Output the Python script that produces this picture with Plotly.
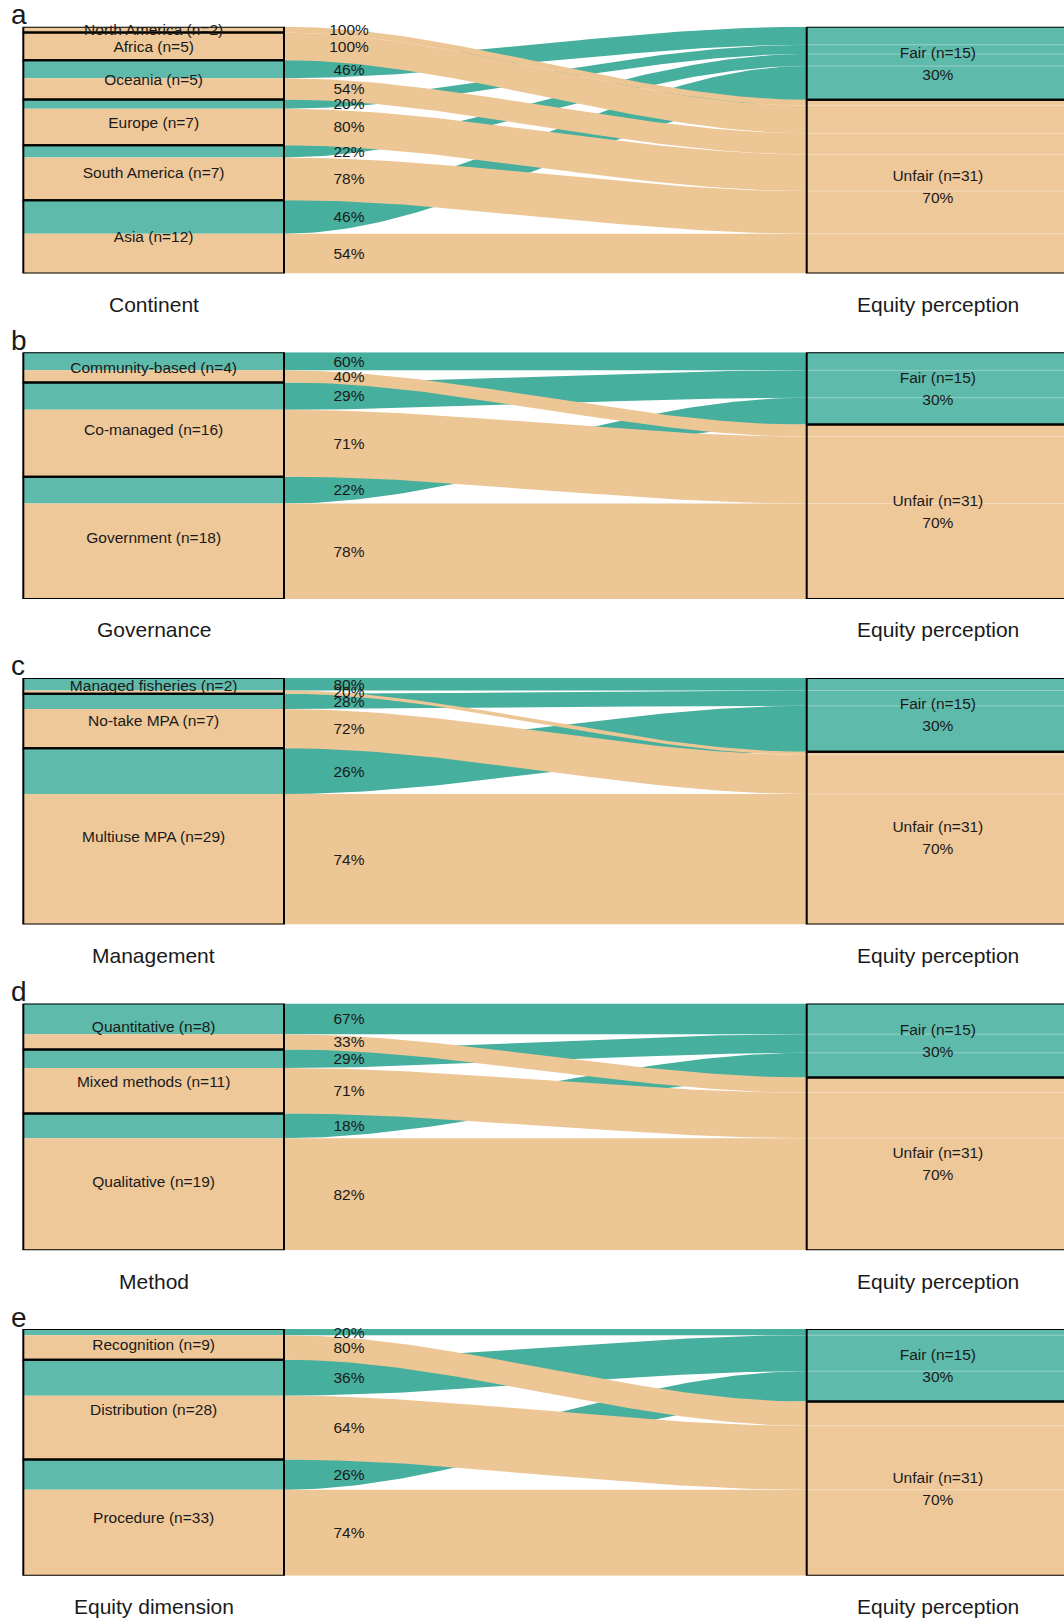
import plotly.graph_objects as go
import numpy as np

# ---------------- data ----------------
continent_names = ["North America", "Africa", "Oceania", "Europe", "South America", "Asia"]
continent_n = [2, 5, 5, 7, 7, 12]
continent_weight = [2.4, 11.2, 15.9, 18.6, 22.2, 29.7]
continent_fair_pct = [0, 0, 46, 20, 22, 46]

governance_names = ["Community-based", "Co-managed", "Government"]
governance_n = [4, 16, 18]
governance_weight = [12.2, 38.2, 49.6]
governance_fair_pct = [60, 29, 22]

management_names = ["Managed fisheries", "No-take MPA", "Multiuse MPA"]
management_n = [2, 7, 29]
management_weight = [6.4, 22.1, 71.5]
management_fair_pct = [80, 28, 26]

method_names = ["Quantitative", "Mixed methods", "Qualitative"]
method_n = [8, 11, 19]
method_weight = [18.6, 26.0, 55.4]
method_fair_pct = [67, 29, 18]

dimension_names = ["Recognition", "Distribution", "Procedure"]
dimension_n = [9, 28, 33]
dimension_weight = [12.4, 40.5, 47.1]
dimension_fair_pct = [20, 36, 26]

outcome_names = ["Fair", "Unfair"]
outcome_n = [15, 31]
outcome_pct = [30, 70]

panel_letters = ["a", "b", "c", "d", "e"]
panel_titles = ["Continent", "Governance", "Management", "Method", "Equity dimension"]
outcome_title = "Equity perception"

panels = [
    (continent_names, continent_n, continent_weight, continent_fair_pct),
    (governance_names, governance_n, governance_weight, governance_fair_pct),
    (management_names, management_n, management_weight, management_fair_pct),
    (method_names, method_n, method_weight, method_fair_pct),
    (dimension_names, dimension_n, dimension_weight, dimension_fair_pct),
]

# ---------------- style / layout constants ----------------
FIG_W, FIG_H = 1064, 1620
LEFT_X0, LEFT_X1 = 23.3, 284.0
RIGHT_X0, RIGHT_X1 = 806.7, 1069.0
PCT_X = 349.0
PANEL_TOP0, PANEL_STEP, PANEL_H = 26.7, 325.6, 246.7
TEXT_SHIFT_PX = 1.5

TEAL_NODE = "#5EBAAA"
TAN_NODE = "#EEC899"
TEAL_FLOW = "#46AF9E"
TAN_FLOW = "#EDC695"
TXT = "#1a1a1a"
FONT = "Arial, Liberation Sans, sans-serif"


def smooth(t):
    return t * t * (3 - 2 * t)


fig = go.Figure()
layout_axes = {}
annotations = []
t = np.linspace(0, 1, 80)
s = smooth(t)
xs = LEFT_X1 + (RIGHT_X0 - LEFT_X1) * t

for i, (names, ns, weights, pcts) in enumerate(panels):
    ax = "" if i == 0 else str(i + 1)
    xref, yref = "x" + ax, "y" + ax
    top_px = PANEL_TOP0 + i * PANEL_STEP
    bot_px = top_px + PANEL_H
    weights = np.array(weights, dtype=float)
    fair = weights * np.array(pcts) / 100.0
    unfair = weights - fair
    total = weights.sum()
    u_per_px = total / PANEL_H
    shift = TEXT_SHIFT_PX * u_per_px

    layout_axes["xaxis" + ax] = dict(domain=[0, 1], range=[0, FIG_W], visible=False,
                                     anchor=yref, fixedrange=True)
    layout_axes["yaxis" + ax] = dict(domain=[1 - bot_px / FIG_H, 1 - top_px / FIG_H],
                                     range=[total, 0], visible=False, anchor=xref,
                                     fixedrange=True)

    def poly(x, y, color):
        fig.add_trace(go.Scatter(
            x=x, y=y, xaxis=xref, yaxis=yref, mode="lines", fill="toself",
            fillcolor=color, line=dict(width=0, color=color),
            hoverinfo="skip", showlegend=False))

    def rect(x0, x1, y0, y1, color):
        poly([x0, x1, x1, x0, x0], [y0, y0, y1, y1, y0], color)

    def outline(x0, x1, y0, y1):
        fig.add_trace(go.Scatter(
            x=[x0, x1, x1, x0, x0], y=[y0, y0, y1, y1, y0], xaxis=xref, yaxis=yref,
            mode="lines", line=dict(color="black", width=2), hoverinfo="skip",
            showlegend=False))

    def texts(x, y, txt):
        fig.add_trace(go.Scatter(
            x=x, y=[v + shift for v in y], text=txt, mode="text",
            textposition="middle center",
            textfont=dict(family=FONT, size=15.5, color=TXT), cliponaxis=False,
            xaxis=xref, yaxis=yref, hoverinfo="skip", showlegend=False))

    # left strata segments
    cum = np.concatenate([[0], np.cumsum(weights)])
    for k in range(len(names)):
        y0 = cum[k]
        if fair[k] > 0:
            rect(LEFT_X0, LEFT_X1, y0, y0 + fair[k], TEAL_NODE)
        rect(LEFT_X0, LEFT_X1, y0 + fair[k], cum[k + 1], TAN_NODE)

    # right strata
    fair_tot = fair.sum()
    rect(RIGHT_X0, RIGHT_X1, 0, fair_tot, TEAL_NODE)
    rect(RIGHT_X0, RIGHT_X1, fair_tot, total, TAN_NODE)

    # flows: teal first, tan on top
    rpos_f = np.concatenate([[0], np.cumsum(fair)])
    rpos_u = fair_tot + np.concatenate([[0], np.cumsum(unfair)])
    for k in range(len(names)):
        if fair[k] <= 0:
            continue
        l0, l1 = cum[k], cum[k] + fair[k]
        r0, r1 = rpos_f[k], rpos_f[k + 1]
        ytop = l0 + (r0 - l0) * s
        ybot = l1 + (r1 - l1) * s
        poly(np.concatenate([xs, xs[::-1]]), np.concatenate([ytop, ybot[::-1]]), TEAL_FLOW)
    for k in range(len(names)):
        if unfair[k] <= 0:
            continue
        l0, l1 = cum[k] + fair[k], cum[k + 1]
        r0, r1 = rpos_u[k], rpos_u[k + 1]
        ytop = l0 + (r0 - l0) * s
        ybot = l1 + (r1 - l1) * s
        poly(np.concatenate([xs, xs[::-1]]), np.concatenate([ytop, ybot[::-1]]), TAN_FLOW)

    # faint seams inside the right box where lodes meet
    seam_y = list(rpos_f[1:-1]) + list(rpos_u[1:-1])
    for yv in seam_y:
        fig.add_trace(go.Scatter(x=[RIGHT_X0, RIGHT_X1], y=[yv, yv], xaxis=xref, yaxis=yref,
                                 mode="lines", line=dict(color="rgba(255,255,255,0.35)", width=1),
                                 hoverinfo="skip", showlegend=False))

    # outlines
    for k in range(len(names)):
        outline(LEFT_X0, LEFT_X1, cum[k], cum[k + 1])
    outline(RIGHT_X0, RIGHT_X1, 0, fair_tot)
    outline(RIGHT_X0, RIGHT_X1, fair_tot, total)

    # category labels
    texts([(LEFT_X0 + LEFT_X1) / 2] * len(names), list((cum[:-1] + cum[1:]) / 2),
          [f"{nm} (n={n})" for nm, n in zip(names, ns)])

    # percentage labels
    py, pt = [], []
    for k in range(len(names)):
        if fair[k] > 0:
            py.append(cum[k] + fair[k] / 2)
            pt.append(f"{pcts[k]}%")
        if unfair[k] > 0:
            py.append(cum[k] + fair[k] + unfair[k] / 2)
            pt.append(f"{100 - pcts[k]}%")
    texts([PCT_X] * len(py), py, pt)

    # outcome labels (two lines)
    off = 11.0 * u_per_px
    centers = [fair_tot / 2, (fair_tot + total) / 2]
    ox, oy, otext = [], [], []
    for c, nm, n, p in zip(centers, outcome_names, outcome_n, outcome_pct):
        ox += [(RIGHT_X0 + RIGHT_X1) / 2] * 2
        oy += [c - off, c + off]
        otext += [f"{nm} (n={n})", f"{p}%"]
    texts(ox, oy, otext)

    # panel letter and axis titles
    annotations.append(dict(text=panel_letters[i], xref="paper", yref="paper",
                            x=9 / FIG_W, y=1 - (top_px - 12) / FIG_H,
                            xanchor="left", yanchor="middle", showarrow=False,
                            font=dict(family=FONT, size=28, color=TXT)))
    title_y = 1 - (bot_px + 31) / FIG_H
    annotations.append(dict(text=panel_titles[i], xref="paper", yref="paper",
                            x=((LEFT_X0 + LEFT_X1) / 2) / FIG_W, y=title_y,
                            xanchor="center", yanchor="middle", showarrow=False,
                            font=dict(family=FONT, size=21, color=TXT)))
    annotations.append(dict(text=outcome_title, xref="paper", yref="paper",
                            x=((RIGHT_X0 + RIGHT_X1) / 2) / FIG_W, y=title_y,
                            xanchor="center", yanchor="middle", showarrow=False,
                            font=dict(family=FONT, size=21, color=TXT)))

fig.update_layout(
    width=FIG_W, height=FIG_H, margin=dict(l=0, r=0, t=0, b=0),
    paper_bgcolor="white", plot_bgcolor="rgba(0,0,0,0)",
    showlegend=False, annotations=annotations, **layout_axes)

fig.write_html("out.html", config={"displayModeBar": False})
